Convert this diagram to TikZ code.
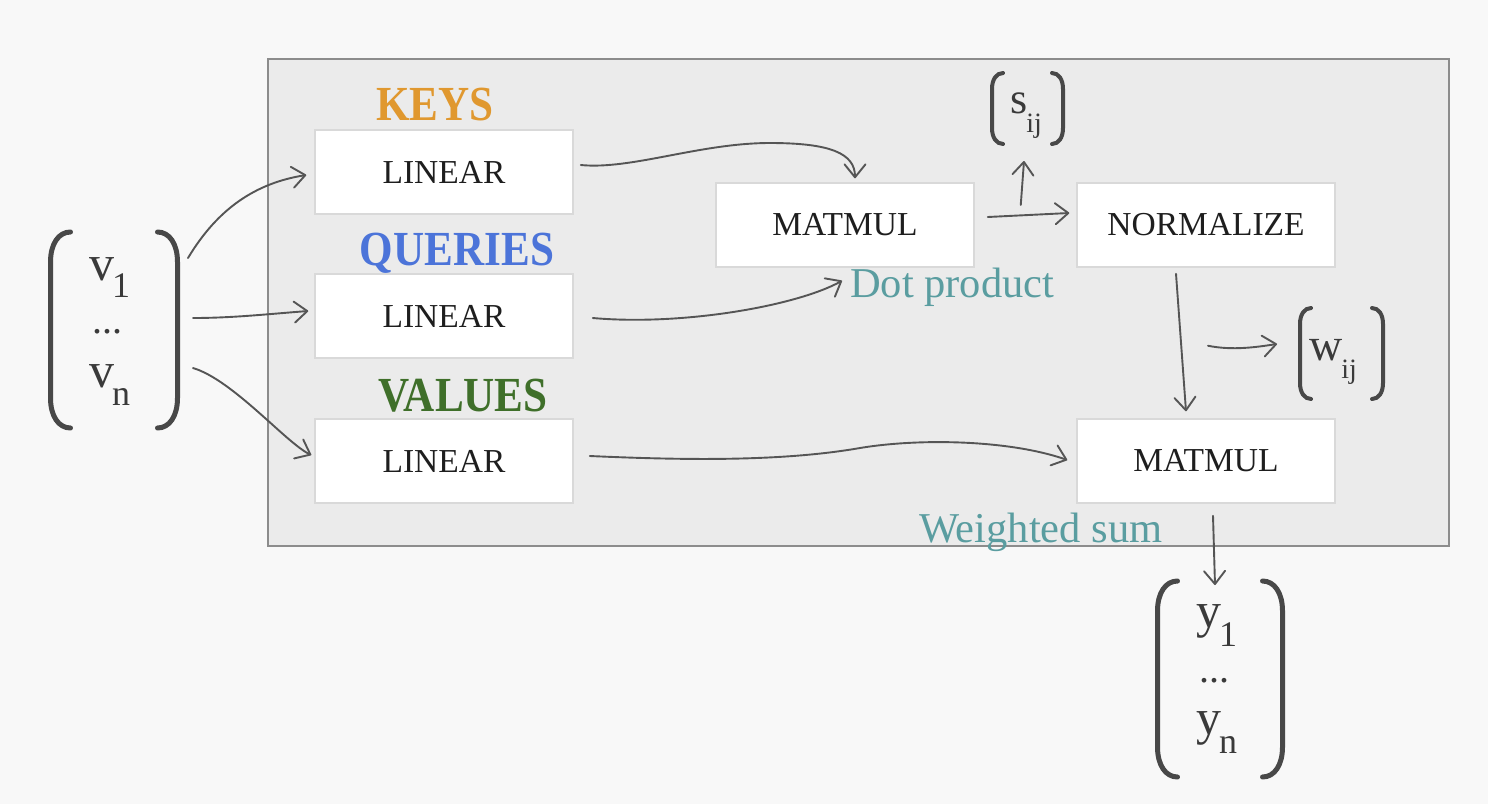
\documentclass[tikz,border=0pt]{standalone}
\usepackage{fontspec}
\setmainfont{Liberation Serif}
\newfontfamily\labfont[FakeStretch=0.88]{Liberation Serif}
\usetikzlibrary{arrows.meta,calc}
\definecolor{bgcol}{HTML}{F8F8F8}
\definecolor{panelcol}{HTML}{EBEBEB}
\definecolor{panelline}{HTML}{8C8C8C}
\definecolor{boxline}{HTML}{D9D9D9}
\definecolor{keycol}{HTML}{E0982F}
\definecolor{querycol}{HTML}{4C74D9}
\definecolor{valcol}{HTML}{3F6F2A}
\definecolor{tealcol}{HTML}{5A9DA0}
\definecolor{arrcol}{HTML}{555555}
\definecolor{brkcol}{HTML}{484848}
\definecolor{txtcol}{HTML}{1E1E1E}
\definecolor{enttxt}{HTML}{3A3A3A}
% #1 node, #2 tip width, #3 corner height, #4 line width
\newcommand\brkpair[4]{%
 \draw[brk, line width=#4]
   ($(#1.north west)+(#2,0)$) .. controls +(-0.6*#2,0) and +(0,-0.6*#3) .. ($(#1.north west)+(0,#3)$)
   -- ($(#1.south west)+(0,-#3)$) .. controls +(0,0.6*#3) and +(-0.6*#2,0) .. ($(#1.south west)+(#2,0)$);
 \draw[brk, line width=#4]
   ($(#1.north east)+(-#2,0)$) .. controls +(0.6*#2,0) and +(0,-0.6*#3) .. ($(#1.north east)+(0,#3)$)
   -- ($(#1.south east)+(0,-#3)$) .. controls +(0,0.6*#3) and +(0.6*#2,0) .. ($(#1.south east)+(-#2,0)$);}
\newcommand\subsz{\fontsize{36}{36}\selectfont}
\newcommand\ssubsz{\fontsize{28}{28}\selectfont}
\begin{document}
\begin{tikzpicture}[x=1pt,y=-1pt,
  opbox/.style={draw=boxline, line width=1.5pt, fill=white, minimum width=258pt, minimum height=84pt, inner sep=0pt, text=txtcol, font=\fontsize{33.5}{36}\selectfont},
  headlab/.style={anchor=base, inner sep=0pt, font=\labfont\bfseries\fontsize{49}{49}\selectfont},
  notelab/.style={anchor=base west, inner sep=0pt, text=tealcol, font=\fontsize{42.5}{45}\selectfont},
  vecbox/.style={shape=rectangle, inner sep=0pt, outer sep=0pt},
  ent/.style={anchor=base west, inner sep=0pt, text=enttxt, font=\fontsize{50}{50}\selectfont},
  entdots/.style={anchor=base, inner sep=0pt, text=enttxt, font=\fontsize{40}{40}\selectfont},
  brk/.style={draw=brkcol, line cap=round},
  conn/.style={draw=arrcol, line width=1.9pt, line cap=round, -{Straight Barb[length=13pt,width=21pt,round]}}
]
\fill[bgcol] (0,0) rectangle (1488,804);
\useasboundingbox (0,0) rectangle (1488,804);

% panel
\node[draw=panelline, fill=panelcol, line width=1.5pt, minimum width=1181pt, minimum height=487pt, inner sep=0pt] (panel) at (858.5,302.5) {};

% operation boxes
\node[opbox] (k1) at (444,172) {LINEAR};
\node[opbox] (q1) at (444,316) {LINEAR};
\node[opbox] (vl) at (444,461) {LINEAR};
\node[opbox] (mm1) at (845,225) {MATMUL};
\node[opbox] (norm) at (1206,225) {NORMALIZE};
\node[opbox] (mm2) at (1206,461) {MATMUL};

% head labels
\node[headlab, text=keycol] (keys) at (435,120) {KEYS};
\node[headlab, text=querycol] (queries) at (457,265) {QUERIES};
\node[headlab, text=valcol] (values) at (463,411) {VALUES};

% notes
\node[notelab] (dotp) at (850,297) {Dot product};
\node[notelab] (wsum) at (919,542) {Weighted sum};

% vectors
\node[vecbox, minimum width=127pt, minimum height=196pt] (vvec) at (114,330) {};
\brkpair{vvec}{20}{30}{5pt}
\node[ent] (v1) at (89,280) {v\kern-2pt\raisebox{-17pt}{\subsz 1}};
\node[entdots] (vdots) at (107,333) {...};
\node[ent] (vn) at (89,387) {v\kern-2pt\raisebox{-18pt}{\subsz n}};

\node[vecbox, minimum width=125pt, minimum height=196pt] (yvec) at (1220,679) {};
\brkpair{yvec}{20}{30}{5pt}
\node[ent] (y1) at (1196,627) {y\kern-2pt\raisebox{-19pt}{\subsz 1}};
\node[entdots] (ydots) at (1214,682) {...};
\node[ent] (yn) at (1196,734) {y\kern-2pt\raisebox{-19pt}{\subsz n}};

\node[vecbox, minimum width=71pt, minimum height=71pt] (svec) at (1027.5,108.5) {};
\brkpair{svec}{11}{16}{4pt}
\node[ent, font=\fontsize{44}{44}\selectfont] (sij) at (1010,113) {s\kern-1pt\raisebox{-19pt}{\ssubsz ij}};

\node[vecbox, minimum width=83pt, minimum height=91pt] (wvec) at (1341.5,353.5) {};
\brkpair{wvec}{11}{16}{4pt}
\node[ent, font=\fontsize{46}{46}\selectfont] (wij) at (1309,360) {w\kern-1pt\raisebox{-18pt}{\ssubsz ij}};

% fork points
\coordinate (sfork) at ($(mm1.east)+(46,-20)$);
\coordinate (wfork) at ($(norm.south)+(2,78)$);

% connectors
\draw[conn] ($(vvec.east)+(10.5,-72)$) .. controls +(30,-50) and +(-50,8) .. ($(k1.west)+(-8,3)$);
\draw[conn] ($(vvec.east)+(15.5,-12)$) .. controls +(40,0) and +(-40,3) .. ($(q1.west)+(-6,-5)$);
\draw[conn] ($(vvec.east)+(15.5,38)$) .. controls +(40,12) and +(-25,-12) .. ($(vl.west)+(-3,-6)$);
\draw[conn] ($(k1.east)+(7,-7)$) .. controls +(50,5) and +(-70,0) .. (770,143) .. controls +(60,0) and +(0,-25) .. ($(mm1.north)+(10,-4)$);
\draw[conn] ($(q1.east)+(19,2)$) .. controls +(90,8) and +(-45,25) .. ($(mm1.south)+(-3,13)$);
\draw[conn] ($(mm1.east)+(13,-8)$) -- ($(norm.west)+(-7,-12)$);
\draw[conn] (sfork) -- ($(svec.south)+(-3.5,17)$);
\draw[conn] ($(norm.south)+(-30,6)$) -- ($(mm2.north)+(-20,-7)$);
\draw[conn] (wfork) .. controls +(25,5) and +(-20,3) .. ($(wvec.west)+(-23,-9.5)$);
\draw[conn] ($(vl.east)+(16,-5)$) .. controls (680,460) and (780,462) .. (860,448) .. controls (920,438) and (1010,440) .. ($(mm2.west)+(-9,-1)$);
\draw[conn] ($(mm2.south)+(7,12)$) -- ($(yvec.north)+(-5,4)$);
\end{tikzpicture}
\end{document}
